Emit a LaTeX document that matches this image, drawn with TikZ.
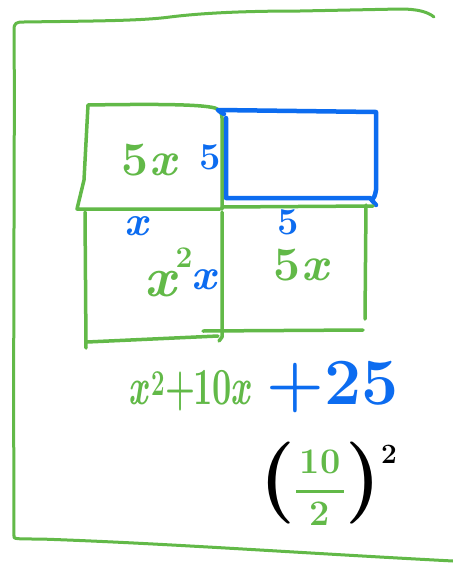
\documentclass[tikz,border=0pt]{standalone}
\definecolor{gcol}{RGB}{98,185,72}
\definecolor{bcol}{RGB}{12,108,240}
\newcommand{\myfs}[1]{\fontsize{#1}{#1}\selectfont\bfseries}
\tikzset{
  gline/.style={draw=gcol, line width=3.5pt, line cap=round, line join=round},
  bline/.style={draw=bcol, line width=4.5pt, line cap=round, line join=round},
  fline/.style={draw=gcol, line width=3pt, line cap=round, line join=round},
  gtxt/.style={text=gcol, inner sep=0pt},
  btxt/.style={text=bcol, inner sep=0pt},
  ktxt/.style={text=black, inner sep=0pt},
}
\begin{document}
\begin{tikzpicture}[x=1pt,y=-1pt]
\useasboundingbox[fill=white] (0,0) rectangle (453,563);
% outer frame
\draw[fline] (14,536) .. controls (13,300) and (15,120) .. (14,30)
  .. controls (14,23) and (16,22) .. (24,22)
  .. controls (90,21) and (140,21) .. (170,17)
  .. controls (210,12) and (260,11) .. (300,11)
  -- (400,9) .. controls (418,9) and (428,12) .. (434,17);
\draw[fline] (14,536) .. controls (13,539) and (16,539) .. (40,539)
  .. controls (160,543) and (300,553) .. (453,561);
% top-left box
\draw[gline] (220,209) -- (77,209) -- (84,180) -- (88,105)
  .. controls (150,104) and (200,104) .. (215,108)
  .. controls (220,110) and (222,113) .. (222,118) -- (222,209);
% blue rectangle
\draw[bline] (218,110) -- (376,112) -- (376,190) .. controls (375,196) and (374,198) .. (372,200);
\draw[bline] (226,118) -- (226,198) -- (370,198) -- (376,205);
\draw[bline] (219,111) -- (224,114);
% bottom-left box
\draw[gline] (85,212) -- (86,348);
\draw[gline] (87,342) -- (218,336);
\draw[gline] (222,212) -- (222,337) -- (219,341);
% bottom-right box
\draw[gline] (222,207) -- (373,206);
\draw[gline] (366,205) -- (365,319);
\draw[gline] (203,331) -- (363,330);
% labels in boxes
\node[gtxt] (tl5x) at (150,160) {\myfs{48}5\textit{x}};
\node[btxt] (b5a) at (210,157) {\myfs{38}5};
\node[btxt] (bxa) at (137,226) {\myfs{42}\textit{x}};
\node[gtxt] (x2) at (161,284) {\myfs{56}\textit{x}};
\node[gtxt] (x2sup) at (184,258) {\myfs{30}2};
\node[btxt] (bxb) at (205,280) {\myfs{44}\textit{x}};
\node[btxt] (b5b) at (288,222) {\myfs{38}5};
\node[gtxt] (br5x) at (302,265) {\myfs{48}5\textit{x}};
% expression
\node[gtxt] (gexpr) at (190,391) {\scalebox{0.66}[1]{\myfs{52}\textit{x}\kern2pt\textsuperscript{2}\kern1pt+\kern-3pt10\kern-3pt\textit{x}}};
\node[btxt] (bexpr) at (333,387) {\myfs{66}+25};
% fraction
\node[ktxt] (frac) at (328,487) {\myfs{82}(\kern1pt\raisebox{6pt}{\fontsize{36}{24}\selectfont\bfseries\color{gcol}%
  \begin{tabular}{@{}c@{}}10\\[-2pt]\rule[2pt]{48pt}{3.5pt}\\[-1pt]2\end{tabular}}\kern1pt)\raisebox{0.48em}{\myfs{28}2}};
\end{tikzpicture}
\end{document}
